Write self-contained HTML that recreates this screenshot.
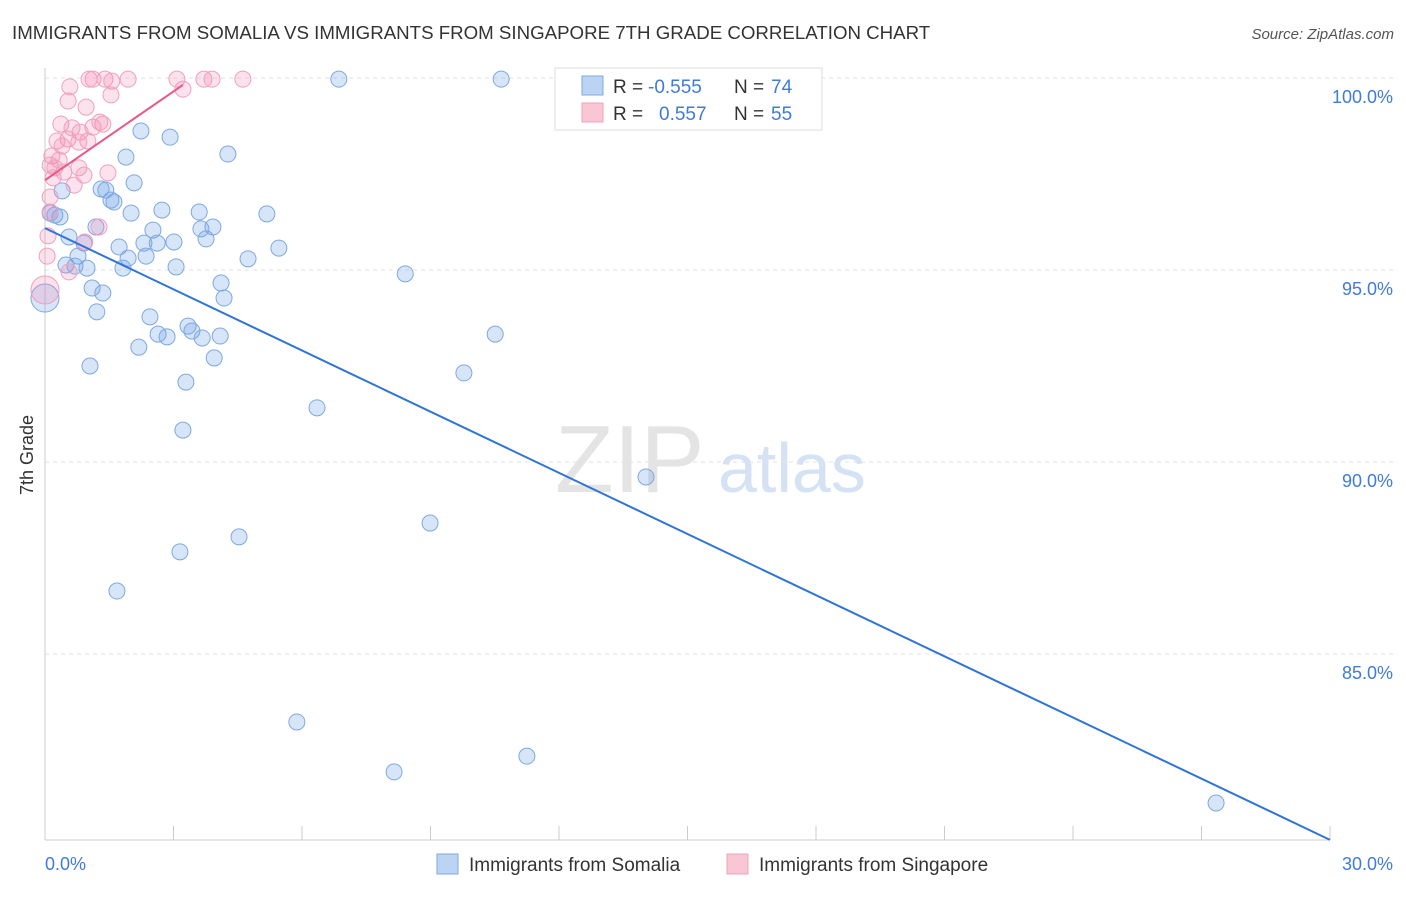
<!DOCTYPE html>
<html><head><meta charset="utf-8"><style>
body{margin:0;background:#fff;font-family:"Liberation Sans",sans-serif}
svg text{font-family:"Liberation Sans",sans-serif}
</style></head><body>
<svg id="chart" width="1406" height="892" viewBox="0 0 1406 892" xmlns="http://www.w3.org/2000/svg">
<text x="12" y="39" font-size="18.7" fill="#333">IMMIGRANTS FROM SOMALIA VS IMMIGRANTS FROM SINGAPORE 7TH GRADE CORRELATION CHART</text>
<text x="1394" y="39" font-size="15" fill="#555" font-style="italic" text-anchor="end">Source: ZipAtlas.com</text>
<text transform="translate(33,455) rotate(-90)" font-size="18" fill="#333" text-anchor="middle">7th Grade</text>
<g>
<text x="555" y="492" font-size="96" font-family="Liberation Serif,serif" fill="#e4e4e4">ZIP</text>
<text x="718" y="492" font-size="70" fill="#d4e2f4">atlas</text>
</g>
<g id="grid"></g>
<g id="axes"></g>
<g id="marks"></g>
<g>
<rect x="555" y="68" width="267" height="62" fill="#fff" stroke="#ddd"/>
<rect x="582" y="76" width="21" height="19" fill="#bcd4f4" stroke="#7fa8e0"/>
<rect x="582" y="103" width="21" height="19" fill="#f9c6d6" stroke="#f0a0bc"/>
<text y="93" font-size="19" fill="#333"><tspan x="613">R =</tspan><tspan x="648" fill="#3f7bd8">-0.555</tspan><tspan x="734">N =</tspan><tspan x="771" fill="#3f7bd8">74</tspan></text>
<text y="120" font-size="19" fill="#333"><tspan x="613">R =</tspan><tspan x="659" fill="#3f7bd8">0.557</tspan><tspan x="734">N =</tspan><tspan x="771" fill="#3f7bd8">55</tspan></text>
</g>
<g>
<rect x="437" y="854" width="21" height="20" fill="#bcd4f4" stroke="#7fa8e0"/>
<text x="469" y="871" font-size="19" fill="#333">Immigrants from Somalia</text>
<rect x="727" y="854" width="21" height="20" fill="#f9c6d6" stroke="#f0a0bc"/>
<text x="759" y="871" font-size="19" fill="#333">Immigrants from Singapore</text>
</g>
</svg>
<script>
const yTicks=[100,95,90,85];
const yTickLabels=["100.0%","95.0%","90.0%","85.0%"];
const xTickLabels=["0.0%","30.0%"];
const somaliaX=[6.86,10.65,2.24,2.92,4.27,1.89,2.08,1.31,1.42,0.40,1.54,1.61,2.01,2.73,3.60,5.18,0.23,0.35,0.12,3.64,3.92,1.19,2.52,0.56,3.76,0.91,1.73,2.31,2.62,3.01,5.46,1.94,2.36,0.77,4.74,0.49,0.70,0.98,1.82,3.06,8.41,4.11,1.10,1.35,4.18,1.21,2.45,3.34,3.43,2.64,2.85,3.67,4.09,10.51,2.19,3.95,1.05,9.78,3.29,6.35,3.22,14.03,8.99,4.53,3.15,1.68,5.88,11.25,8.15,27.34];
const somaliaY=[99.97,99.97,98.62,98.46,98.02,97.94,97.27,97.11,97.08,97.06,96.82,96.77,96.48,96.56,96.51,96.46,96.43,96.38,96.48,96.07,96.12,96.12,96.04,95.86,95.81,95.70,95.60,95.70,95.70,95.73,95.57,95.31,95.36,95.36,95.29,95.13,95.10,95.05,95.05,95.08,94.90,94.66,94.53,94.40,94.27,93.91,93.78,93.54,93.41,93.33,93.26,93.23,93.28,93.33,92.99,92.71,92.50,92.32,92.08,91.41,90.83,89.61,88.41,88.05,87.66,86.64,83.23,82.34,81.93,81.12];
const somaliaBig=[[0,94.27]];
const singX=[1.12,1.03,1.40,1.94,3.08,3.71,3.90,4.62,0.58,1.56,3.22,1.54,0.54,0.96,0.37,1.35,0.63,1.12,1.28,0.82,0.54,0.28,1.00,0.79,0.40,0.16,0.33,0.12,0.23,0.79,0.91,0.44,1.47,0.19,0.68,0.12,0.12,1.26,0.07,0.93,0.05,0.56];
const singY=[99.97,99.97,99.97,99.97,99.97,99.97,99.97,99.97,99.77,99.92,99.71,99.56,99.40,99.24,98.80,98.80,98.70,98.72,98.85,98.59,98.41,98.36,98.36,98.33,98.23,97.97,97.86,97.73,97.66,97.66,97.47,97.55,97.53,97.40,97.21,96.90,96.51,96.12,95.89,95.73,95.36,94.95];
const singBig=[[0,94.48]];
const somaliaTrend=[[0,96.09],[30,80.16]];
const singTrend=[[0,97.34],[3.22,99.82]];
const NS="http://www.w3.org/2000/svg";
const X=v=>45+v/30*1285;
const Y=v=>78+(100-v)*38.4;
function mk(tag,attrs,parent){const e=document.createElementNS(NS,tag);for(const k in attrs)e.setAttribute(k,attrs[k]);parent.appendChild(e);return e;}
const grid=document.getElementById('grid'),axes=document.getElementById('axes'),marks=document.getElementById('marks');
yTicks.forEach((t,i)=>{
 const l=mk('line',{x1:45,x2:1393,y1:Y(t),y2:Y(t),stroke:'#e2e2e2','stroke-dasharray':'4,4'},grid);
 
 
 const tx=mk('text',{x:1393,y:Y(t)+25,'font-size':18,fill:'#3f7bd8','text-anchor':'end'},axes);
 tx.textContent=yTickLabels[i];
 
 
});
const ax=mk('line',{x1:45,x2:45,y1:68,y2:840,stroke:'#ccc'},axes);


const bx=mk('line',{x1:45,x2:1330,y1:840,y2:840,stroke:'#ccc'},axes);


for(let i=0;i<=10;i++){
 const t=mk('line',{x1:X(i*3),x2:X(i*3),y1:826,y2:840,stroke:'#ccc'},axes);
 
 
}
const xl0=mk('text',{x:45,y:870,'font-size':18,fill:'#3f7bd8'},axes);xl0.textContent=xTickLabels[0];


const xl1=mk('text',{x:1393,y:870,'font-size':18,fill:'#3f7bd8','text-anchor':'end'},axes);xl1.textContent=xTickLabels[1];


function pts(xs,ys,fill,stroke,name,r){
 xs.forEach((x,i)=>{const c=mk('circle',{cx:X(x),cy:Y(ys[i]),r:r,fill:fill,stroke:stroke,'stroke-width':1},marks);
 
 });
}
pts(somaliaX,somaliaY,'rgba(110,160,235,0.28)','#7fa8e0','somalia-point',8);
pts(somaliaBig.map(p=>p[0]),somaliaBig.map(p=>p[1]),'rgba(110,160,235,0.28)','#7fa8e0','somalia-point',14);
pts(singX,singY,'rgba(245,140,180,0.25)','#f0a0bc','singapore-point',8);
pts(singBig.map(p=>p[0]),singBig.map(p=>p[1]),'rgba(245,140,180,0.25)','#f0a0bc','singapore-point',14);
const tl1=mk('line',{x1:X(somaliaTrend[0][0]),y1:Y(somaliaTrend[0][1]),x2:X(somaliaTrend[1][0]),y2:Y(somaliaTrend[1][1]),stroke:'#2f74d6','stroke-width':2},marks);


const tl2=mk('line',{x1:X(singTrend[0][0]),y1:Y(singTrend[0][1]),x2:X(singTrend[1][0]),y2:Y(singTrend[1][1]),stroke:'#e8588a','stroke-width':2},marks);


</script>
</body></html>
